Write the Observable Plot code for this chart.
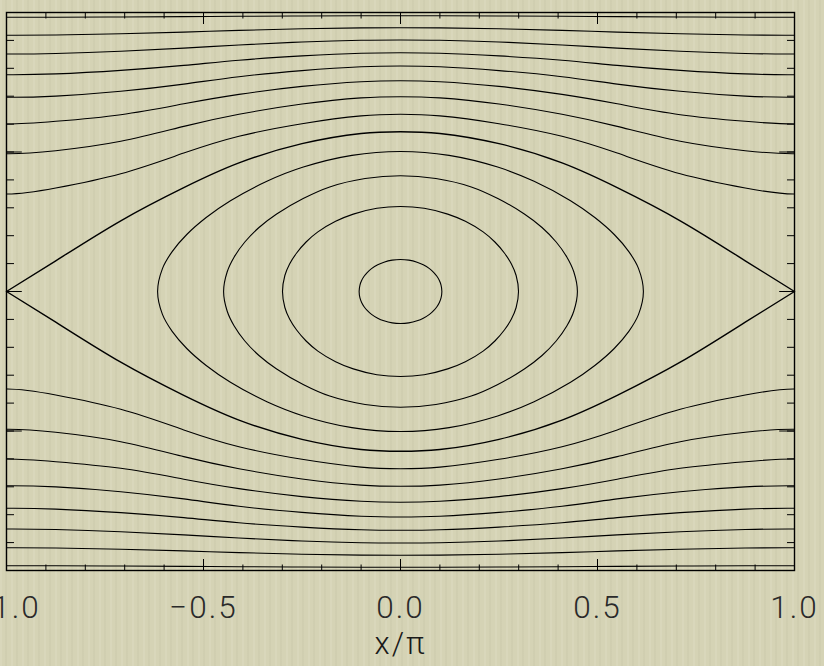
<!DOCTYPE html>
<html>
<head>
<meta charset="utf-8">
<script src="https://cdn.jsdelivr.net/npm/d3@7"></script>
<script src="https://cdn.jsdelivr.net/npm/@observablehq/plot@0.6"></script>
<style>
html, body { margin: 0; padding: 0; }
body {
  background-color: #d5d3b5;
  background-image: repeating-linear-gradient(90deg,
    rgba(255,255,240,0.10) 0px, rgba(255,255,240,0.10) 2px,
    rgba(0,0,0,0) 2px, rgba(0,0,0,0) 5px,
    rgba(90,90,60,0.04) 5px, rgba(90,90,60,0.04) 7px,
    rgba(0,0,0,0) 7px, rgba(0,0,0,0) 11px);
}
#chart { width: 824px; height: 666px; overflow: hidden; }
</style>
</head>
<body>
<div id="chart"></div>
<script>
// ---- axis ticks and labels ----
const xMajorTicks = [-1, -0.5, 0, 0.5, 1];
const xMinorTicks = [-1, -0.9, -0.8, -0.7, -0.6, -0.5, -0.4, -0.3, -0.2, -0.1, 0, 0.1, 0.2, 0.3, 0.4, 0.5, 0.6, 0.7, 0.8, 0.9, 1];
const yMajorTicks = [-1, -0.5, 0, 0.5, 1];
const yMinorTicks = [-1, -0.9, -0.8, -0.7, -0.6, -0.5, -0.4, -0.3, -0.2, -0.1, 0, 0.1, 0.2, 0.3, 0.4, 0.5, 0.6, 0.7, 0.8, 0.9, 1];
const xLabel = "x/\u03c0";

// ---- open (passing) streamlines: |y| at these x/π values (figure is symmetric in x and y) ----
const uOpen = [0, 0.1, 0.25, 0.41, 0.55, 0.71, 0.875, 1];
const streamA = [0.9885, 0.9884, 0.9877, 0.9864, 0.9852, 0.9839, 0.9830, 0.9828];
const streamB = [0.9455, 0.9448, 0.9416, 0.9358, 0.9298, 0.9237, 0.9194, 0.9183];
const streamC = [0.9014, 0.9004, 0.8943, 0.8835, 0.8724, 0.8609, 0.8531, 0.8513];
const streamD = [0.8559, 0.8541, 0.8444, 0.8290, 0.8104, 0.7925, 0.7799, 0.7771];
const streamE = [0.8082, 0.8054, 0.7918, 0.7699, 0.7434, 0.7176, 0.7004, 0.6961];
const streamF = [0.7556, 0.7520, 0.7351, 0.7065, 0.6728, 0.6337, 0.6100, 0.6004];
const streamG = [0.6982, 0.6939, 0.6720, 0.6351, 0.5918, 0.5384, 0.5047, 0.4939];
const streamH = [0.6351, 0.6294, 0.6014, 0.5563, 0.4961, 0.4222, 0.3710, 0.3495];
const separatrix = [0.5728, 0.5664, 0.5298, 0.4610, 0.3724, 0.2535, 0.1100, 0];

// ---- closed streamlines (islands): one quarter, x/π and |y| ----
const island1U = [0, 0.021, 0.042, 0.0578, 0.0735, 0.084, 0.0924, 0.0987, 0.1029, 0.105];
const island1Y = [0.1147, 0.1124, 0.1051, 0.0958, 0.0819, 0.0688, 0.0545, 0.0391, 0.0228, 0];
const island2U = [0, 0.0599, 0.1198, 0.1647, 0.2097, 0.2396, 0.2636, 0.2815, 0.2935, 0.2995];
const island2Y = [0.3047, 0.2982, 0.2774, 0.2516, 0.2136, 0.1774, 0.1380, 0.0986, 0.0573, 0];
const island3U = [0, 0.0898, 0.1796, 0.2470, 0.3143, 0.3592, 0.3951, 0.4221, 0.4400, 0.449];
const island3Y = [0.4151, 0.4050, 0.3749, 0.3333, 0.2778, 0.2294, 0.1774, 0.1237, 0.0699, 0];
const island4U = [0, 0.1233, 0.2466, 0.3391, 0.4316, 0.4932, 0.5425, 0.5795, 0.6042, 0.6165];
const island4Y = [0.5018, 0.4878, 0.4459, 0.3950, 0.3254, 0.2652, 0.2043, 0.1430, 0.0821, 0];

// ---- build tables (mirroring the symmetric readings; open lines repeat periodically past ±1) ----
function openCurve(id, ys, sign, periodic) {
  const n = uOpen.length - 1, pts = [];
  if (periodic) pts.push({x: -(2 - uOpen[n - 1]), y: sign * ys[n - 1], id});
  for (let i = n; i > 0; i--) pts.push({x: -uOpen[i], y: sign * ys[i], id});
  for (let i = 0; i <= n; i++) pts.push({x: uOpen[i], y: sign * ys[i], id});
  if (periodic) pts.push({x: 2 - uOpen[n - 1], y: sign * ys[n - 1], id});
  return pts;
}
function closedCurve(id, us, ys) {
  const n = us.length - 1, pts = [];
  for (let i = 0; i <= n; i++) pts.push({x: us[i], y: ys[i], id});
  for (let i = n - 1; i >= 0; i--) pts.push({x: us[i], y: -ys[i], id});
  for (let i = 1; i <= n; i++) pts.push({x: -us[i], y: -ys[i], id});
  for (let i = n - 1; i >= 1; i--) pts.push({x: -us[i], y: ys[i], id});
  return pts;
}
const streams = [["A", streamA], ["B", streamB], ["C", streamC], ["D", streamD],
                 ["E", streamE], ["F", streamF], ["G", streamG], ["H", streamH]];
const openPts = [];
for (const [k, ys] of streams) {
  openPts.push(...openCurve(k + "+", ys, 1, true), ...openCurve(k + "-", ys, -1, true));
}
const sepPts = [...openCurve("S+", separatrix, 1, false), ...openCurve("S-", separatrix, -1, false)];
const closedPts = [
  ...closedCurve("I1", island1U, island1Y),
  ...closedCurve("I2", island2U, island2Y),
  ...closedCurve("I3", island3U, island3Y),
  ...closedCurve("I4", island4U, island4Y)
];

const tickOpts = {fill: "none", stroke: "black", strokeWidth: 1, label: null};
const font = "Roboto, 'DejaVu Sans', sans-serif";

const chart = Plot.plot({
  width: 824,
  height: 666,
  marginLeft: 6,
  marginRight: 30,
  marginTop: 12,
  marginBottom: 96,
  style: {background: "transparent", letterSpacing: "2px"},
  x: {domain: [-1, 1]},
  y: {domain: [-1, 1]},
  marks: [
    Plot.line(openPts, {x: "x", y: "y", z: "id", curve: "natural", clip: true, stroke: "black", strokeWidth: 1.1}),
    Plot.line(sepPts, {x: "x", y: "y", z: "id", curve: "natural", stroke: "black", strokeWidth: 1.4}),
    Plot.line(closedPts, {x: "x", y: "y", z: "id", curve: "catmull-rom-closed", stroke: "black", strokeWidth: 1.1}),
    Plot.axisX(xMinorTicks, {anchor: "bottom", tickSize: -5.5, ...tickOpts}),
    Plot.axisX(xMajorTicks, {anchor: "bottom", tickSize: -11, ...tickOpts}),
    Plot.axisX(xMinorTicks, {anchor: "top", tickSize: -5.5, ...tickOpts}),
    Plot.axisX(xMajorTicks, {anchor: "top", tickSize: -11, ...tickOpts}),
    Plot.axisY(yMinorTicks, {anchor: "left", tickSize: -8, ...tickOpts}),
    Plot.axisY(yMajorTicks, {anchor: "left", tickSize: -15.8, ...tickOpts}),
    Plot.axisY(yMinorTicks, {anchor: "right", tickSize: -8, ...tickOpts}),
    Plot.axisY(yMajorTicks, {anchor: "right", tickSize: -15.8, ...tickOpts}),
    Plot.axisX(xMajorTicks, {
      anchor: "bottom", tickSize: 0, tickPadding: 25.5, label: null,
      tickFormat: d3.format(".1f"), fontSize: 31.5, fontFamily: font, fontWeight: 300, fill: "#2a2a2a"
    }),
    Plot.text([xLabel], {
      text: d => d, frameAnchor: "bottom", dy: 83, fontSize: 31, fontFamily: font, fontWeight: 300, fill: "#1a1a1a"
    }),
    Plot.frame({stroke: "black", strokeWidth: 1.4})
  ]
});
document.getElementById("chart").appendChild(chart);
</script>
</body>
</html>
